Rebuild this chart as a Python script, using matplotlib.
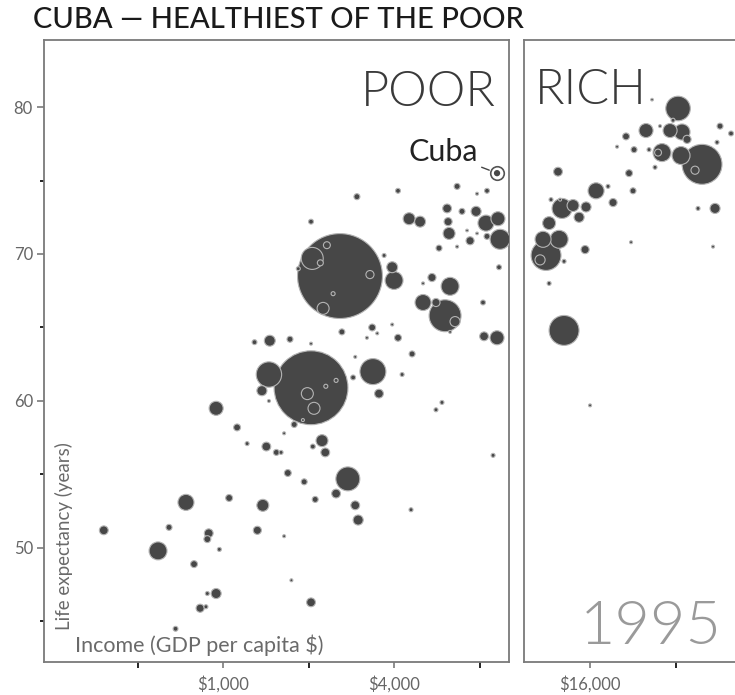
import matplotlib
matplotlib.use("Agg")
import matplotlib.pyplot as plt
from matplotlib.ticker import FixedLocator, NullFormatter, FixedFormatter
import numpy as np

plt.rcParams["font.family"] = ["Lato", "DejaVu Sans"]

# Datos: ingreso (PIB per cápita $), esperanza de vida (años), población (millones)
poor_income = [2580, 2040, 1450, 3370, 6050, 4000, 3940, 6300, 5060, 5620,
               6560, 5440, 9220, 8300, 9450, 8430, 9290, 6250, 7410, 8500,
               5760, 6150, 6200, 6940, 7780, 4520, 4940, 6670, 8500, 7840,
               2960, 4130, 2040, 9370, 3690, 8230, 3350, 4130, 4630, 4270,
               2620, 1720, 1460, 1290, 1370, 1450, 945, 1120, 1215, 1420,
               1540, 1600, 1780, 3540, 5900, 5620, 2230, 2070, 2290, 1690,
               1930, 2750, 2500, 2110, 2920, 2990, 1380, 1320, 1640, 4590,
               8930, 1740, 2040, 1050, 740, 380, 645, 890, 880, 590,
               970, 790, 945, 880, 830, 870, 680, 2870, 2920, 3490,
               3940, 3210, 2040, 6300, 6670, 7230, 7840, 5060, 1640,
               2060, 2320, 2200, 1840, 3290, 2250, 2440, 1980, 2090, 2300,
               2500, 1910]
poor_life = [68.5, 60.9, 61.8, 62.0, 65.8, 68.2, 69.1, 67.8, 66.7, 66.7,
             65.4, 68.4, 64.3, 64.4, 71.0, 72.1, 72.4, 71.4, 70.9, 71.2,
             70.4, 73.1, 72.2, 72.9, 72.9, 72.4, 72.2, 74.6, 74.3, 74.1,
             73.9, 74.3, 72.2, 69.1, 69.9, 66.7, 65.0, 64.3, 63.2, 61.8,
             64.7, 64.2, 64.1, 64.0, 60.7, 60.0, 59.5, 58.2, 57.1, 56.9,
             56.5, 56.5, 58.4, 60.5, 59.9, 59.4, 57.3, 56.9, 56.5, 55.1,
             54.5, 54.7, 53.7, 53.3, 52.9, 51.9, 52.9, 51.2, 50.8, 52.6,
             56.3, 47.8, 46.3, 53.4, 53.1, 51.2, 51.4, 51.0, 50.6, 49.8,
             49.9, 48.9, 46.9, 46.9, 45.9, 46.0, 44.5, 61.6, 63.0, 64.6,
             65.2, 64.3, 63.9, 64.7, 70.5, 71.6, 71.4, 68.0, 57.8,
             69.7, 70.6, 69.4, 69.0, 68.6, 66.3, 67.3, 60.5, 59.5, 61.0,
             61.4, 58.7]
poor_pop = [1205, 913, 108, 113, 171, 54, 20, 54, 43, 11,
            17, 11, 33, 13, 67, 43, 33, 24, 11, 6,
            6, 13, 11, 6, 17, 24, 20, 6, 4, 1.5,
            6, 4, 4, 4, 2.7, 4, 8, 8, 6, 2.7,
            6, 6, 20, 4, 17, 1.5, 33, 8, 2.7, 13,
            6, 2.7, 6, 13, 2.7, 2.7, 24, 4, 13, 8,
            6, 96, 13, 6, 13, 17, 24, 11, 1.5, 2.7,
            2.7, 1.5, 13, 8, 43, 13, 6, 13, 8, 54,
            2.7, 8, 17, 2.7, 11, 2.7, 4, 4, 1.5, 1.5,
            1.5, 1.5, 1.5, 1.5, 1.5, 1.2, 1.2, 1.5, 1.5,
            81, 8, 6, 2.7, 11, 24, 2.7, 24, 24, 2.7,
            2.7, 1.5]

rich_income = [32660, 31360, 25190, 21420, 30610, 33730, 35130, 28220, 45900, 50190,
               44800, 19920, 22860, 25810, 28680, 33460, 39670, 37480, 27100, 21950,
               12340, 18510, 22670, 16800, 19280, 11660, 12550, 12750, 13940, 15490,
               14640, 11480, 10930, 12450, 11200, 10670, 12960, 15370, 11480, 22310,
               38400, 44080, 43370, 12960, 16000, 26450, 27770]
rich_life = [79.9, 79.1, 78.4, 78.0, 78.4, 78.3, 77.8, 78.7, 78.7, 78.2,
             77.6, 77.3, 77.1, 77.1, 76.9, 76.7, 76.1, 75.7, 75.9, 75.5,
             75.6, 74.6, 74.3, 74.3, 73.5, 73.7, 73.7, 73.1, 73.3, 73.2,
             72.5, 72.1, 71.0, 71.0, 69.9, 69.6, 69.5, 70.3, 68.0, 70.8,
             73.1, 73.1, 70.5, 64.8, 59.7, 80.5, 76.9]
rich_pop = [101, 2.7, 33, 8, 33, 43, 11, 1.5, 6, 4,
            2.7, 1.5, 6, 2.7, 54, 54, 267, 11, 2.7, 8,
            13, 2.7, 6, 43, 11, 2.7, 1.5, 67, 24, 17,
            17, 28, 43, 54, 150, 17, 2.7, 11, 2.7, 1.5,
            2.7, 17, 1.5, 150, 1.5, 1.2, 8]

cuba_income, cuba_life, cuba_pop = 9220, 75.5, 11

face = "#474747"
edge = "#b4b4b4"
frame = "#7a7a7a"
ylim = (42.24, 84.56)


def burbujas(ax, income, life, pop):
    income = np.array(income)
    life = np.array(life)
    pop = np.array(pop)
    orden = np.argsort(-pop)
    ax.scatter(income[orden], life[orden], s=3.1 * pop[orden], c=face,
               edgecolors=edge, linewidths=0.8, zorder=3)


def marco(ax):
    for sp in ax.spines.values():
        sp.set_color(frame)
        sp.set_linewidth(1.3)
    ax.set_xscale("log")
    ax.set_ylim(*ylim)
    ax.tick_params(colors=frame, labelcolor="#666666", labelsize=12)


fig = plt.figure(figsize=(7.35, 6.95), dpi=100)
W, H = 735, 695

ax1 = fig.add_axes([44 / W, 1 - 662 / H, (509 - 44) / W, (662 - 40) / H])
ax2 = fig.add_axes([524 / W, 1 - 662 / H, (760 - 524) / W, (662 - 40) / H])

for ax in (ax1, ax2):
    marco(ax)

ax1.set_xlim(234, 10160)
ax2.set_xlim(9366, 63470)

burbujas(ax1, poor_income, poor_life, poor_pop)
burbujas(ax2, rich_income, rich_life, rich_pop)

# Cuba resaltada
ax1.scatter([cuba_income], [cuba_life], s=95, facecolors="white",
            edgecolors="#555555", linewidths=1.2, zorder=5)
ax1.scatter([cuba_income], [cuba_life], s=3.1 * cuba_pop * 0.6, c=face,
            edgecolors="none", zorder=6)
ax1.annotate("Cuba", xy=(cuba_income, cuba_life), xytext=(-14, 15),
             textcoords="offset points", ha="right", va="center",
             fontsize=22, color="#222222",
             arrowprops=dict(arrowstyle="-", color="#444444", lw=1,
                             shrinkA=1, shrinkB=6))

# Ejes y ticks
ax1.yaxis.set_major_locator(FixedLocator([50, 60, 70, 80]))
ax1.yaxis.set_minor_locator(FixedLocator([45, 55, 65, 75]))
ax1.tick_params(axis="y", which="major", length=5, width=1.2, pad=3)
ax1.tick_params(axis="y", which="minor", length=3, width=1.2)

ax1.xaxis.set_major_locator(FixedLocator([1000, 4000]))
ax1.xaxis.set_major_formatter(FixedFormatter(["$1,000", "$4,000"]))
ax1.xaxis.set_minor_locator(FixedLocator([500, 2000, 8000]))
ax1.xaxis.set_minor_formatter(NullFormatter())

ax2.xaxis.set_major_locator(FixedLocator([16000]))
ax2.xaxis.set_major_formatter(FixedFormatter(["$16,000"]))
ax2.xaxis.set_minor_locator(FixedLocator([32000]))
ax2.xaxis.set_minor_formatter(NullFormatter())
ax2.yaxis.set_major_locator(FixedLocator([]))
ax2.yaxis.set_minor_locator(FixedLocator([]))

for ax in (ax1, ax2):
    ax.tick_params(axis="x", which="both", length=4, width=1.2, pad=6)

# Textos
fig.text(33 / W, 1 - 20 / H, "CUBA — HEALTHIEST OF THE POOR", fontsize=21,
         color="#1a1a1a", fontweight="medium", va="center", ha="left")
fig.text(496 / W, 1 - 92 / H, "POOR", fontsize=35, color="#3a3a3a",
         fontweight=300, ha="right", va="center")
fig.text(535 / W, 1 - 91 / H, "RICH", fontsize=35, color="#3a3a3a",
         fontweight=300, ha="left", va="center")
fig.text(722 / W, 1 - 627 / H, "1995", fontsize=44, color="#9a9a9a",
         fontweight=300, ha="right", va="center")
fig.text(64 / W, 1 - 630 / H, "Life expectancy (years)", rotation=90,
         fontsize=13.5, color="#6a6a6a", ha="center", va="bottom")
fig.text(75 / W, 1 - 645 / H, "Income (GDP per capita $)", fontsize=15.5,
         color="#6a6a6a", ha="left", va="center")

fig.savefig("out.png", dpi=100)
